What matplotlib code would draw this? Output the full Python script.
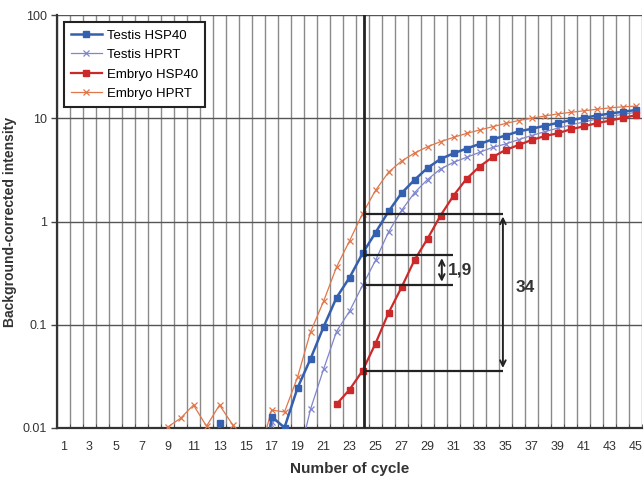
import numpy as np
import matplotlib
matplotlib.use("Agg")
import matplotlib.pyplot as plt
from matplotlib.ticker import FixedLocator, NullLocator, FixedFormatter

nan = np.nan
cycles = list(range(1, 46))

# Background-corrected intensity per cycle (values < 0.01 fall below the axis)
testis_hsp40 = [nan]*11 + [0.001, 0.0111, 0.001, nan, 0.001, 0.0129, 0.0101,
                0.0244, 0.0467, 0.095, 0.183, 0.286, 0.49, 0.78, 1.25, 1.88, 2.53, 3.30,
                4.03, 4.57, 5.08, 5.63, 6.24, 6.8, 7.45, 7.9, 8.45, 9.0, 9.55, 10.1,
                10.6, 11.1, 11.55, 12.0]
testis_hprt = [nan]*15 + [0.001, 0.0115, 0.005, 0.0045,
               0.0152, 0.0369, 0.086, 0.135, 0.24, 0.42, 0.79, 1.28, 1.9, 2.55,
               3.23, 3.74, 4.18, 4.67, 5.22, 5.63, 6.2, 6.8, 7.4, 8.0, 8.6, 9.2,
               9.8, 10.4, 10.9, 11.4]
embryo_hsp40 = [nan]*21 + [0.0170, 0.0235, 0.0358, 0.0658, 0.13, 0.23, 0.423, 0.68,
                1.14, 1.78, 2.59, 3.40, 4.2, 4.93, 5.5, 6.15, 6.7, 7.15, 7.8, 8.34,
                8.95, 9.46, 10.05, 10.7]
embryo_hprt = [nan]*7 + [0.004, 0.0102, 0.0124, 0.0167, 0.0104, 0.0167, 0.0108,
               0.005, 0.005, 0.0149, 0.0143, 0.031, 0.085, 0.168, 0.362, 0.648, 1.19,
               2.0, 3.0, 3.85, 4.6, 5.3, 5.93, 6.53, 7.13, 7.69, 8.28, 8.9, 9.5,
               10.0, 10.5, 11.0, 11.4, 11.8, 12.2, 12.6, 12.9, 13.1]

series_names = ["Testis HSP40", "Testis HPRT", "Embryo HSP40", "Embryo HPRT"]

# annotation values
threshold_cycle = 24.1
level_hi, level_t_hsp, level_t_hprt, level_lo = 1.19, 0.47, 0.245, 0.0358
ratio_small_label = "1,9"
ratio_big_label = "34"
small_arrow_end = 30.95
big_arrow_end = 34.8

xtick_labels = [str(i) for i in range(1, 46, 2)]
ytick_values = [0.01, 0.1, 1, 10, 100]
ytick_labels = ["0.01", "0.1", "1", "10", "100"]

plt.rcParams['font.family'] = ['Liberation Sans', 'DejaVu Sans']

fig = plt.figure(figsize=(6.44, 4.82), dpi=100)
ax = fig.add_axes([57/644, 1-428/482, 585/644, 413/482])
ax.set_yscale('log')
ax.set_ylim(0.01, 100)
ax.set_xlim(0.5, 45.5)

# grid
ax.xaxis.set_major_locator(FixedLocator(list(range(1, 46, 2))))
ax.xaxis.set_major_formatter(FixedFormatter(xtick_labels))
ax.xaxis.set_minor_locator(FixedLocator([c - 0.5 for c in cycles] + [45.5]))
ax.grid(which='minor', axis='x', color='#8a8a8a', lw=1.0)
ax.yaxis.set_major_locator(FixedLocator(ytick_values))
ax.yaxis.set_major_formatter(FixedFormatter(ytick_labels))
ax.yaxis.set_minor_locator(NullLocator())
ax.grid(which='major', axis='y', color='#555555', lw=1.0)
ax.set_axisbelow(True)
ax.tick_params(axis='x', which='major', length=0, pad=9, labelsize=9, labelcolor='#333333')
ax.tick_params(axis='x', which='minor', length=3, direction='in', color='#444444')
ax.tick_params(axis='y', which='major', length=4, width=1, color='#444444', labelsize=9, labelcolor='#333333')
for s in ['top', 'right']:
    ax.spines[s].set_visible(False)
for s in ['left', 'bottom']:
    ax.spines[s].set_color('#333333')
    ax.spines[s].set_linewidth(1.6)

ax.plot(cycles, testis_hsp40, color='#3560b0', lw=1.8, marker='s', ms=4.2, label=series_names[0], zorder=4)
ax.plot(cycles, testis_hprt, color='#7f86cc', lw=0.9, marker='x', ms=4.5, mew=0.9, label=series_names[1], zorder=3)
ax.plot(cycles, embryo_hsp40, color='#cc2a2a', lw=1.6, marker='s', ms=4.2, label=series_names[2], zorder=4)
ax.plot(cycles, embryo_hprt, color='#e0774a', lw=0.9, marker='x', ms=4.5, mew=0.9, label=series_names[3], zorder=3)

# annotations
ax.axvline(threshold_cycle, color='#222222', lw=2.0, zorder=5)
ax.hlines([level_hi, level_lo], threshold_cycle, big_arrow_end, color='#222222', lw=1.6, zorder=5)
ax.hlines([level_t_hsp, level_t_hprt], threshold_cycle, small_arrow_end, color='#222222', lw=1.6, zorder=5)
ax.annotate('', xy=(30.1, level_t_hsp), xytext=(30.1, level_t_hprt),
            arrowprops=dict(arrowstyle='<->', color='#222222', lw=1.4, mutation_scale=10), zorder=6)
ax.annotate('', xy=(big_arrow_end, level_hi), xytext=(big_arrow_end, level_lo),
            arrowprops=dict(arrowstyle='<->', color='#222222', lw=1.4, mutation_scale=10), zorder=6)
ax.text(30.55, 0.34, ratio_small_label, fontsize=12.5, fontweight='bold', color='#333333', va='center', ha='left')
ax.text(35.8, 0.23, ratio_big_label, fontsize=12.5, fontweight='bold', color='#333333', va='center', ha='left')

ax.set_ylabel("Background-corrected intensity", fontsize=10, fontweight='bold', color='#333333', labelpad=4)
ax.set_xlabel("Number of cycle", fontsize=11, fontweight='bold', color='#333333', labelpad=7)

leg = ax.legend(loc='upper left', bbox_to_anchor=(0.012, 0.983), borderaxespad=0,
                fancybox=False, frameon=True, fontsize=9.5, handlelength=2.3,
                labelspacing=0.55, borderpad=0.55, handletextpad=0.4)
leg.get_frame().set_edgecolor('#222222')
leg.get_frame().set_linewidth(1.5)
leg.get_frame().set_alpha(1)

fig.savefig("out.png", dpi=100)
